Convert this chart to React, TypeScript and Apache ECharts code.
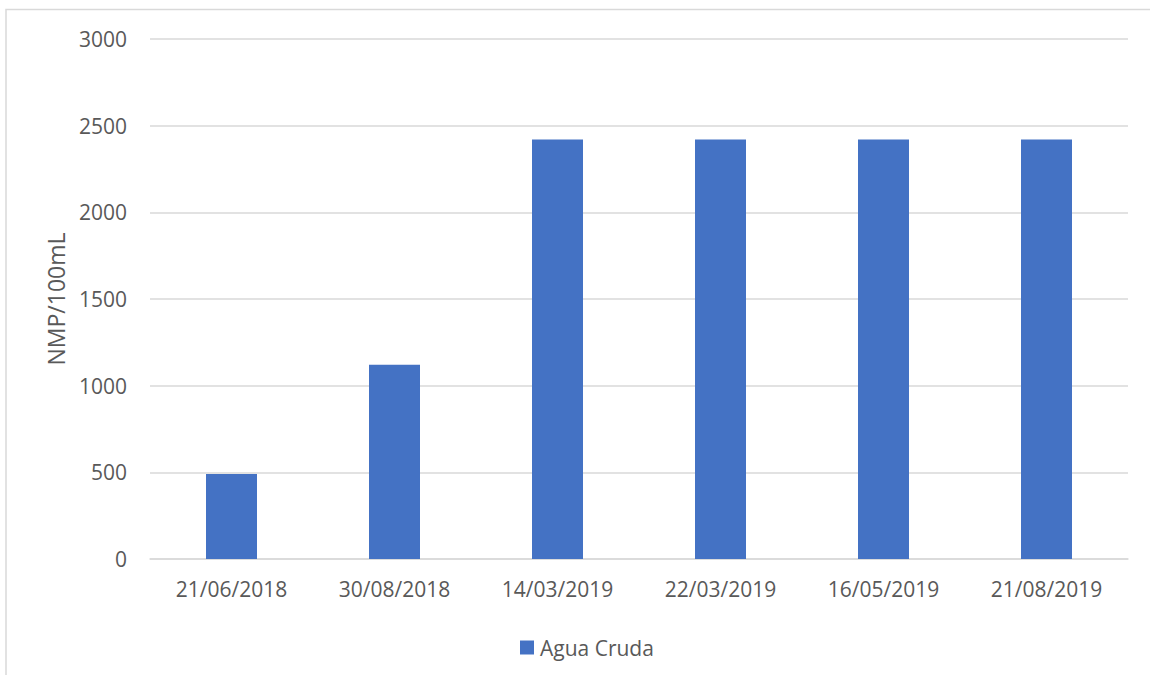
import React, { useEffect, useRef } from "react";
import * as echarts from "echarts";

const categories = ["21/06/2018", "30/08/2018", "14/03/2019", "22/03/2019", "16/05/2019", "21/08/2019"];
const aguaCruda = [490, 1120, 2420, 2420, 2420, 2420];
const seriesName = "Agua Cruda";
const yAxisName = "NMP/100mL";

export default function App() {
  const ref = useRef<HTMLDivElement>(null);
  useEffect(() => {
    if (!ref.current) return;
    const chart = echarts.init(ref.current, undefined, { renderer: "svg" });
    const font = "'Open Sans', sans-serif";
    chart.setOption({
      animation: false,
      backgroundColor: "#ffffff",
      graphic: [
        {
          type: "rect",
          silent: true,
          shape: { x: 6, y: 9.5, width: 1300, height: 800 },
          style: { fill: "none", stroke: "#d9d9d9", lineWidth: 1.5 },
        },
      ],
      grid: { left: 150, right: 22, top: 39, bottom: 116, containLabel: false },
      legend: {
        left: 515,
        top: 632,
        itemWidth: 14,
        itemHeight: 14,
        itemGap: 10,
        icon: "rect",
        textStyle: { fontFamily: font, fontSize: 21, color: "#595959", padding: [0, 0, 0, 1] },
        data: [seriesName],
      },
      xAxis: {
        type: "category",
        data: categories,
        axisLine: { show: true, lineStyle: { color: "#d9d9d9", width: 1.5 } },
        axisTick: { show: false },
        axisLabel: { fontFamily: font, fontSize: 21, color: "#595959", margin: 19 },
      },
      yAxis: {
        type: "value",
        min: 0,
        max: 3000,
        interval: 500,
        name: yAxisName,
        nameLocation: "middle",
        nameGap: 83,
        nameRotate: 90,
        nameTextStyle: { fontFamily: font, fontSize: 23, color: "#595959" },
        axisLine: { show: false },
        axisTick: { show: false },
        splitLine: { lineStyle: { color: "#d9d9d9", width: 1.5 } },
        axisLabel: {
          fontFamily: font,
          fontSize: 21,
          color: "#595959",
          margin: 23,
          formatter: (v: number) => String(v),
        },
      },
      series: [
        {
          name: seriesName,
          type: "bar",
          data: aguaCruda,
          barWidth: 51,
          itemStyle: { color: "#4472C4" },
        },
      ],
    });
    return () => chart.dispose();
  }, []);
  return (
    <div
      ref={ref}
      style={{ position: "absolute", left: 0, top: 0, width: 1150, height: 675 }}
    />
  );
}
